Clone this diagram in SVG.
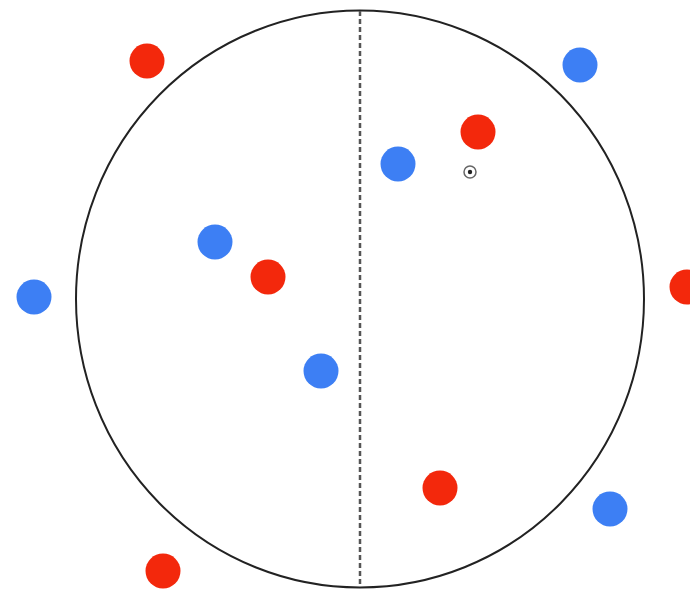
<svg xmlns="http://www.w3.org/2000/svg" width="690" height="592" viewBox="0 0 690 592">
<style>
.red{fill:#f3280c}
.blue{fill:#3d7ff4}
</style>
<rect width="690" height="592" fill="#ffffff"/>
<g id="boundary">
<ellipse cx="360" cy="299" rx="284" ry="288.5" fill="none" stroke="#222" stroke-width="2"/>
</g>
<g id="connectors">
<line x1="360" y1="11" x2="360" y2="587" stroke="#555" stroke-width="2.5" stroke-dasharray="5,3"/>
</g>
<g id="center">
<circle cx="470" cy="172" r="6" fill="none" stroke="#666" stroke-width="1.5"/>
<circle cx="470" cy="172" r="2.2" fill="#222"/>
</g>
<g id="r1"><circle class="red" cx="147" cy="61" r="17.5"/></g>
<g id="r2"><circle class="red" cx="478" cy="132" r="17.5"/></g>
<g id="r3"><circle class="red" cx="268" cy="277" r="17.5"/></g>
<g id="r4"><circle class="red" cx="687" cy="287" r="17.5"/></g>
<g id="r5"><circle class="red" cx="440" cy="488" r="17.5"/></g>
<g id="r6"><circle class="red" cx="163" cy="571" r="17.5"/></g>
<g id="b1"><circle class="blue" cx="580" cy="65" r="17.5"/></g>
<g id="b2"><circle class="blue" cx="398" cy="164" r="17.5"/></g>
<g id="b3"><circle class="blue" cx="215" cy="242" r="17.5"/></g>
<g id="b4"><circle class="blue" cx="34" cy="297" r="17.5"/></g>
<g id="b5"><circle class="blue" cx="321" cy="371" r="17.5"/></g>
<g id="b6"><circle class="blue" cx="610" cy="509" r="17.5"/></g>
</svg>
